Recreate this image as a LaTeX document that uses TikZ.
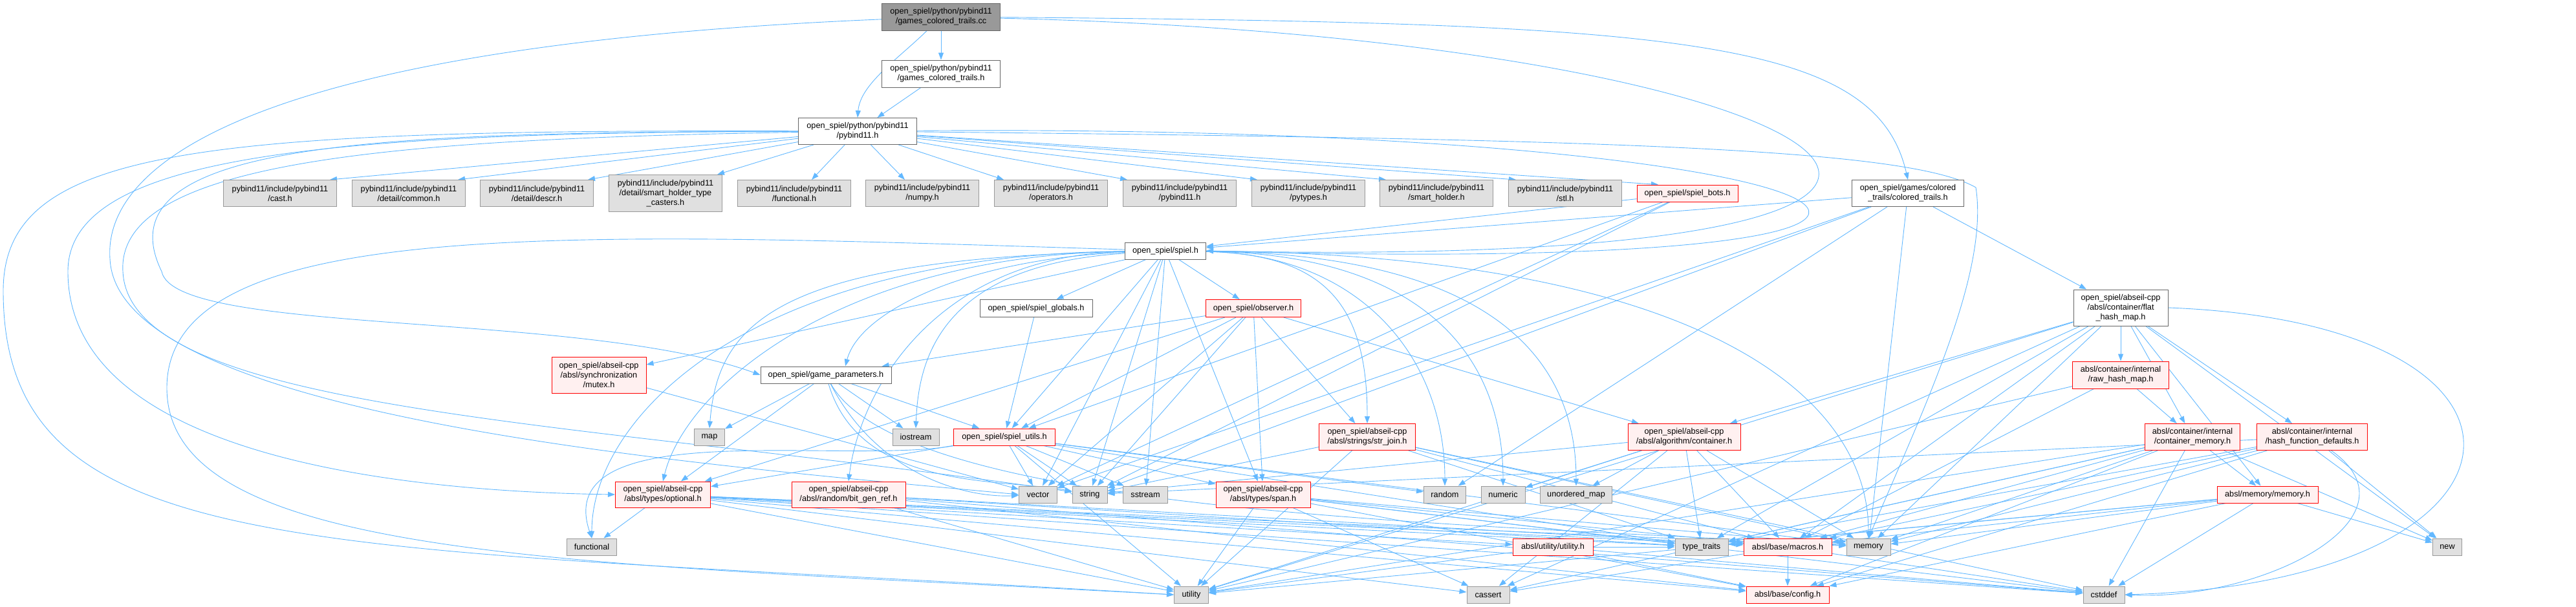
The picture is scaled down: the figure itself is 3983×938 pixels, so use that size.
\documentclass[tikz,border=0pt]{standalone}
\usepackage{fontspec}
\setmainfont{Liberation Sans}
\usepackage{tikz}
\usetikzlibrary{arrows.meta}
\usepackage{xcolor}

\definecolor{edgeblue}{HTML}{63B8FF}
\definecolor{grayfill}{HTML}{E0E0E0}
\definecolor{grayline}{HTML}{999999}
\definecolor{redfill}{HTML}{FFF0F0}
\definecolor{redline}{HTML}{FF0000}
\definecolor{darkline}{HTML}{666666}
\definecolor{rootfill}{HTML}{999999}

\pgfdeclarelayer{background}
\pgfsetlayers{background,main}

\tikzset{
    filebox/.style={rectangle, draw, line width=1pt, inner sep=0pt, align=center,
        font=\fontsize{12.7}{15}\selectfont},
    plain/.style={filebox, draw=darkline, fill=white},
    sys/.style={filebox, draw=grayline, fill=grayfill},
    trunc/.style={filebox, draw=redline, fill=redfill},
    root/.style={filebox, draw=darkline, fill=rootfill},
    wh/.style 2 args={minimum width=#1pt, minimum height=#2pt},
    edge/.style={draw=edgeblue, line width=0.9pt, -{Triangle[length=11pt,width=8pt]}},
}

\begin{document}
\begin{tikzpicture}[x=1pt, y=-1pt]
    \useasboundingbox (0,0) rectangle (3983,938);

    % Root file and its own header
    \node[root, wh={183}{42}] (gcc) at (1455,26) {open\_spiel/python/pybind11\\/games\_colored\_trails.cc};
    \node[plain, wh={183}{42}] (gch) at (1455,114) {open\_spiel/python/pybind11\\/games\_colored\_trails.h};
    \node[plain, wh={183}{41}] (pyb) at (1326,203) {open\_spiel/python/pybind11\\/pybind11.h};

    % pybind11 headers
    \foreach \name/\x/\file in {cast/433/cast.h, common/632/{detail/common.h}, descr/830/{detail/descr.h},
        functionalh/1228/functional.h, numpy/1426/numpy.h, operators/1625/operators.h,
        pybindh/1824/pybind11.h, pytypes/2023/pytypes.h, smartholder/2221/smart\_holder.h, stl/2420/stl.h} {
        \node[sys, wh={175}{41}] (\name) at (\x,299) {pybind11/include/pybind11\\/\file};
    }
    \node[sys, wh={175}{57}] (shtc) at (1029,299) {pybind11/include/pybind11\\/detail/smart\_holder\_type\\\_casters.h};
    \node[trunc, wh={156}{26}] (bots) at (2609,299) {open\_spiel/spiel\_bots.h};
    \node[plain, wh={173}{41}] (ctr) at (2950,299) {open\_spiel/games/colored\\\_trails/colored\_trails.h};

    % open_spiel headers
    \node[plain, wh={125}{26}] (spiel) at (1802,388) {open\_spiel/spiel.h};
    \node[plain, wh={174}{27}] (globals) at (1602,477) {open\_spiel/spiel\_globals.h};
    \node[trunc, wh={147}{27}] (observer) at (1938,477) {open\_spiel/observer.h};
    \node[plain, wh={202}{26}] (gparams) at (1277,580) {open\_spiel/game\_parameters.h};
    \node[trunc, wh={157}{26}] (utils) at (1553,676) {open\_spiel/spiel\_utils.h};

    % abseil headers
    \node[plain, wh={146}{56}] (fhm) at (3279,476) {open\_spiel/abseil-cpp\\/absl/container/flat\\\_hash\_map.h};
    \node[trunc, wh={146}{56}] (mutex) at (926,580) {open\_spiel/abseil-cpp\\/absl/synchronization\\/mutex.h};
    \node[trunc, wh={149}{42}] (rhm) at (3279,580) {absl/container/internal\\/raw\_hash\_map.h};
    \node[trunc, wh={149}{41}] (strjoin) at (2114,676) {open\_spiel/abseil-cpp\\/absl/strings/str\_join.h};
    \node[trunc, wh={174}{41}] (container) at (2604,676) {open\_spiel/abseil-cpp\\/absl/algorithm/container.h};
    \node[trunc, wh={147}{41}] (cmem) at (3390,676) {absl/container/internal\\/container\_memory.h};
    \node[trunc, wh={171}{41}] (hfd) at (3575,676) {absl/container/internal\\/hash\_function\_defaults.h};
    \node[trunc, wh={147}{40}] (optional) at (1025,765) {open\_spiel/abseil-cpp\\/absl/types/optional.h};
    \node[trunc, wh={176}{40}] (bitgen) at (1312,765) {open\_spiel/abseil-cpp\\/absl/random/bit\_gen\_ref.h};
    \node[trunc, wh={146}{40}] (span) at (1953,765) {open\_spiel/abseil-cpp\\/absl/types/span.h};
    \node[trunc, wh={156}{26}] (amem) at (3506,765) {absl/memory/memory.h};
    \node[trunc, wh={124}{26}] (autil) at (2401,846) {absl/utility/utility.h};
    \node[trunc, wh={136}{26}] (macros) at (2764,846) {absl/base/macros.h};
    \node[trunc, wh={128}{26}] (config) at (2764,920) {absl/base/config.h};

    % standard library headers
    \foreach \name/\x/\y/\w/\txt in {map/1097/676/47/map, iostream/1416/676/72/iostream,
        vector/1605/765/59/vector, string/1685/765/54/string, sstream/1771/765/69/sstream,
        random/2234/765/65/random, numeric/2324/765/68/numeric, umap/2437/765/111/unordered\_map,
        functional/915/846/77/functional, typetraits/2631/846/82/type\_traits, memory/2889/846/68/memory,
        new/3784/846/45/new, utility/1842/920/53/utility, cassert/2301/920/66/cassert, cstddef/3253/920/64/cstddef} {
        \node[sys, wh={\w}{26}] (\name) at (\x,\y) {\txt};
    }

    \begin{pgfonlayer}{background}
    % pybind11.h into its row of headers
    \foreach \t/\dx in {cast/77, common/76, descr/79, shtc/80, functionalh/27, numpy/-27, operators/-73,
        pybindh/-81, pytypes/-79, smartholder/-78, stl/-76, bots/-45} {
        \draw[edge] (pyb) -- ([xshift=\dx]\t.north);
    }

    % Direct includes
    \foreach \s/\t in {gcc/gch, gch/pyb, ctr/fhm, ctr/spiel, ctr/vector, ctr/string, ctr/random, ctr/memory,
        bots/spiel, bots/utils, bots/string, bots/vector,
        spiel/globals, spiel/observer, spiel/mutex, spiel/utils, spiel/vector, spiel/string, spiel/sstream, spiel/span,
        globals/utils,
        observer/gparams, observer/utils, observer/vector, observer/string, observer/span, observer/strjoin,
        observer/container, observer/optional,
        gparams/map, gparams/iostream, gparams/utils, gparams/optional, mutex/vector,
        utils/optional, utils/vector, utils/string, utils/sstream, utils/span, utils/random, utils/typetraits,
        utils/memory, utils/utility,
        optional/functional, optional/utility, optional/typetraits, optional/macros, optional/config,
        optional/memory, optional/autil, optional/cassert, optional/cstddef,
        bitgen/utility, bitgen/typetraits, bitgen/macros, bitgen/config, bitgen/cstddef,
        span/utility, span/cassert, span/typetraits, span/macros, span/config, span/cstddef, span/memory,
        strjoin/string, strjoin/typetraits, strjoin/macros, strjoin/memory, strjoin/cstddef, strjoin/utility,
        container/numeric, container/umap, container/typetraits, container/macros, container/cassert,
        container/string, container/utility, container/memory,
        autil/utility, autil/config, autil/typetraits, autil/cstddef,
        macros/config, macros/cassert, macros/cstddef,
        fhm/container, fhm/typetraits, fhm/macros, fhm/utility, fhm/rhm, fhm/cmem, fhm/hfd, fhm/amem,
        fhm/new, fhm/memory, fhm/cassert,
        rhm/cmem, rhm/macros, rhm/utility,
        cmem/amem, cmem/memory, cmem/typetraits, cmem/utility, cmem/macros, cmem/new, cmem/config, cmem/cassert,
        cmem/cstddef,
        hfd/typetraits, hfd/macros, hfd/new, hfd/config, hfd/memory, hfd/string,
        amem/new, amem/cstddef, amem/memory, amem/typetraits, amem/macros, amem/utility, amem/config} {
        \draw[edge] (\s) -- (\t);
    }

    % spiel.h fanning out to the right
    \foreach \t/\a/\b in {strjoin/250/180, random/300/200, numeric/400/200, umap/500/200,
        memory/800/233} {
        \draw[edge] (spiel) .. controls +(\a,5) and +(0,-\b) .. (\t.north);
    }

    % spiel.h curving to the left
    \draw[edge] (spiel) .. controls (1500,400) and (1330,480) .. ([xshift=30]gparams.north);
    \draw[edge] (spiel) .. controls (1200,400) and (1110,500) .. (map.north);
    \draw[edge] (spiel) .. controls (1450,410) and (1420,560) .. (iostream.north);
    \draw[edge] (spiel) .. controls (1450,395) and (1330,600) .. (bitgen.north);
    \draw[edge] (spiel) .. controls (1300,395) and (1060,600) .. (optional.north);
    \draw[edge] (spiel) .. controls (1150,395) and (915,650) .. (functional.north);
    \draw[edge] (spiel) .. controls (900,360) and (258,330) .. (258,600)
        .. controls (258,870) and (900,870) .. (utility.west);

    % gparams and utils going round their neighbours
    \draw[edge] (gparams) .. controls (1330,760) and (1550,740) .. (string);
    \draw[edge] (gparams) .. controls (1360,740) and (1500,770) .. (vector);
    \draw[edge] (gparams) .. controls (1400,800) and (2300,810) .. (memory);
    \draw[edge] (utils) .. controls (1300,720) and (850,640) .. (functional.north);

    % long loops of the root file
    \draw[edge] (gcc) .. controls (1390,90) and (1330,130) .. (pyb.north);
    \draw[edge] (gcc) .. controls (2600,35) and (2900,60) .. (ctr.north);
    \draw[edge] (gcc) .. controls (2900,60) and (3400,420) .. (spiel.east);
    \draw[edge] (gcc) .. controls (400,70) and (160,250) .. (170,400)
        .. controls (180,650) and (1100,720) .. (vector.west);

    % long loops of pybind11.h
    \draw[edge] (pyb) .. controls (2950,190) and (3350,430) .. (spiel.east);
    \draw[edge] (pyb) .. controls (2500,215) and (2950,230) .. (3055,290)
        .. controls (3075,420) and (2980,620) .. (memory.north);
    \draw[edge] (pyb) .. controls (300,200) and (5,230) .. (5,450)
        .. controls (5,880) and (500,840) .. (utility.west);
    \draw[edge] (pyb) .. controls (500,205) and (105,240) .. (105,420)
        .. controls (105,700) and (600,760) .. (optional.west);
    \draw[edge] (pyb) .. controls (600,215) and (180,250) .. (190,420)
        .. controls (200,640) and (900,650) .. (string);
    \draw[edge] (pyb) .. controls (600,205) and (150,215) .. (250,420)
        .. controls (270,520) and (900,480) .. (gparams.west);

    % flat_hash_map and hash defaults looping round the right
    \draw[edge] (fhm.east) .. controls (3990,500) and (3950,900) .. (cstddef.east);
    \draw[edge] (hfd) .. controls (3750,800) and (3500,930) .. (cstddef.east);
    \end{pgfonlayer}
\end{tikzpicture}
\end{document}
